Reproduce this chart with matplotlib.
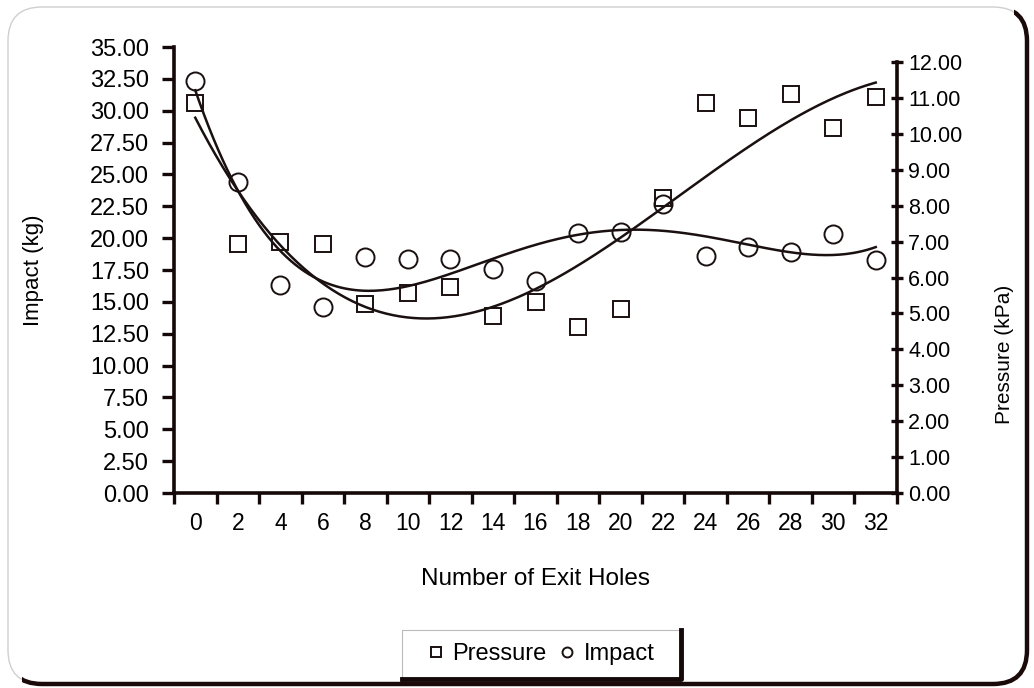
import numpy as np
import matplotlib.pyplot as plt
from matplotlib.patches import FancyBboxPatch, Polygon

plt.rcParams['font.family'] = ['Liberation Sans', 'DejaVu Sans']

# measurements per number of exit holes
exit_holes = [0, 2, 4, 6, 8, 10, 12, 14, 16, 18, 20, 22, 24, 26, 28, 30, 32]
impact_kg = [32.3, 24.4, 16.3, 14.6, 18.5, 18.4, 18.4, 17.6, 16.6, 20.4,
             20.5, 22.7, 18.6, 19.3, 18.9, 20.3, 18.3]
pressure_kpa = [10.86, 6.93, 6.99, 6.93, 5.26, 5.57, 5.73, 4.93, 5.32, 4.62,
                5.12, 8.21, 10.86, 10.44, 11.11, 10.16, 11.02]

impact_ticks = np.arange(0, 35.01, 2.5)
pressure_ticks = np.arange(0, 12.01, 1.0)

W, H = 1034, 688
fig = plt.figure(figsize=(W / 100, H / 100), dpi=100)
fig.patch.set_facecolor('white')

# overlay in pixel units for the frame and the legend box
bg = fig.add_axes([0, 0, 1, 1])
bg.set_xlim(0, W)
bg.set_ylim(H, 0)
bg.axis('off')

frame_thin = FancyBboxPatch((8, 7), 1019, 677, boxstyle='round,pad=0,rounding_size=34',
                            fill=False, ec='#cfcfcf', lw=1.0)
bg.add_patch(frame_thin)
frame_thick = FancyBboxPatch((8, 7), 1019, 677, boxstyle='round,pad=0,rounding_size=34',
                             fill=False, ec='#1a0a0a', lw=3.2)
bg.add_patch(frame_thick)
clip = Polygon([(22, 620), (22, H), (W, H), (W, 0), (1014, 0), (1014, 620)],
               closed=True, transform=bg.transData, visible=False)
bg.add_patch(clip)
frame_thick.set_clip_path(clip)

# legend box: thin top/left, heavy right/bottom
bg.plot([402, 402, 681], [679, 630, 630], color='#bbbbbb', lw=0.8)
bg.plot([402, 681, 681], [679, 679, 630], color='#140808', lw=3.5)

ax = fig.add_axes([174 / W, 1 - 493 / H, (897 - 174) / W, (493 - 47) / H])
ax2 = ax.twinx()

x = np.array(exit_holes, dtype=float)
xs = np.linspace(0, 32, 300)

# polynomial trend lines
imp_fit = np.polyfit(x, impact_kg, 4)
pre_fit = np.polyfit(x, pressure_kpa, 3)

ax.plot(xs, np.polyval(imp_fit, xs), color='#1a1010', lw=1.8)
ax.plot(x, impact_kg, 'o', ms=13, mfc='none', mec='#1a1010', mew=1.4, label='Impact')

p_top = 12 * 446 / 431
ax2.plot(xs, np.polyval(pre_fit, xs), color='#1a1010', lw=1.8)
ax2.plot(x, pressure_kpa, 's', ms=12, mfc='none', mec='#1a1010', mew=1.4, label='Pressure')

ax.set_xlim(-1, 33)
ax.set_ylim(0, 35)
ax2.set_ylim(0, p_top)

for s in ['top', 'right']:
    ax.spines[s].set_visible(False)
ax2.spines['top'].set_visible(False)
ax2.spines['left'].set_visible(False)
ax2.spines['bottom'].set_visible(False)
for sp in [ax.spines['left'], ax.spines['bottom'], ax2.spines['right']]:
    sp.set_linewidth(2.6)
    sp.set_color('#140808')
ax2.spines['right'].set_bounds(0, 12)

ax.set_xticks(exit_holes)
ax.set_xticklabels([str(v) for v in exit_holes], fontsize=16.5)
ax.set_xticks(np.arange(-1, 34, 2), minor=True)
ax.tick_params(axis='x', which='major', length=0, pad=14)
ax.tick_params(axis='x', which='minor', length=8, width=2.4, direction='out', color='#140808')

ax.set_yticks(impact_ticks)
ax.set_yticklabels(['%.2f' % v for v in impact_ticks], fontsize=17)
ax.tick_params(axis='y', length=9, width=2.4, direction='out', color='#140808', pad=9)

ax2.set_yticks(pressure_ticks)
ax2.set_yticklabels(['%.2f' % v for v in pressure_ticks], fontsize=15.5)
ax2.tick_params(axis='y', length=8, width=2.4, direction='inout', color='#140808', pad=4)

ax.set_xlabel('Number of Exit Holes', fontsize=17.5)
ax.xaxis.set_label_coords(0.5, -0.168)
ax.set_ylabel('Impact (kg)', fontsize=16)
ax.yaxis.set_label_coords(-0.18, 0.5)
ax2.set_ylabel('Pressure (kPa)', fontsize=15)
ax2.yaxis.set_label_coords(1.135, 0.31)

h1, l1 = ax2.get_legend_handles_labels()
h2, l2 = ax.get_legend_handles_labels()
leg = fig.legend(h1[-1:] + h2[-1:], l1[-1:] + l2[-1:], loc='center',
                 bbox_to_anchor=(541 / W, 1 - 654 / H), ncol=2, frameon=False,
                 fontsize=17, handlelength=0.7, handletextpad=0.35, columnspacing=0.5,
                 markerscale=0.55)

fig.savefig('out.png', dpi=100)
